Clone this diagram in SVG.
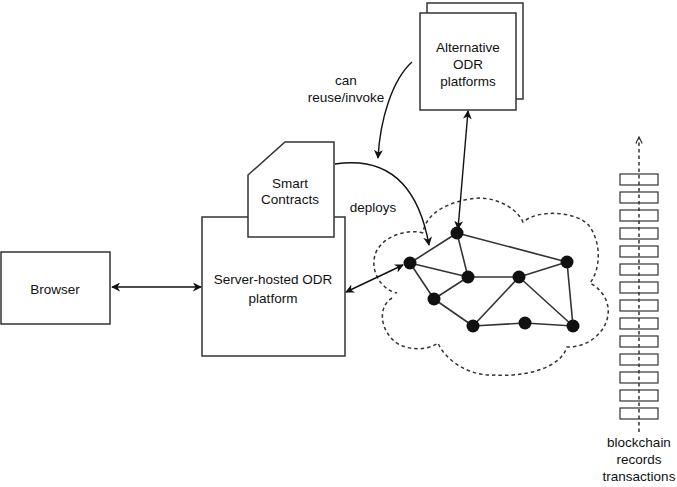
<svg xmlns="http://www.w3.org/2000/svg" width="677" height="487" viewBox="0 0 677 487">
<style>
text{font-family:"Liberation Sans",Arial,sans-serif;font-size:13.5px;fill:#111;text-anchor:middle}
.box{fill:#fff;stroke:#333;stroke-width:1.5}
.edge{stroke:#333;stroke-width:1.6;fill:none}
.conn{stroke:#111;stroke-width:1.4;fill:none}
.dash{stroke:#333;stroke-width:1.5;fill:none;stroke-dasharray:3.5,3}
.node{fill:#111}
.blk{fill:#fff;stroke:#333;stroke-width:1.2}
</style>
<defs>
<marker id="ah" viewBox="0 0 10 10" refX="9" refY="5" markerWidth="9" markerHeight="9" markerUnits="userSpaceOnUse" orient="auto-start-reverse">
<path d="M0,0 L10,5 L0,10 L3,5 z" fill="#111"/>
</marker>
<marker id="oh" viewBox="0 0 10 10" refX="9" refY="5" markerWidth="8" markerHeight="8" markerUnits="userSpaceOnUse" orient="auto">
<path d="M1,1 L9,5 L1,9" fill="none" stroke="#333" stroke-width="1.5"/>
</marker>
</defs>

<g id="alt-platforms">
<rect class="box" x="427" y="3" width="96" height="96"/>
<rect class="box" x="420" y="13" width="96" height="97"/>
<text x="468" y="52">Alternative</text>
<text x="468" y="69">ODR</text>
<text x="468" y="86">platforms</text>
</g>

<g id="browser">
<rect class="box" x="1" y="252" width="109" height="72"/>
<text x="55" y="294">Browser</text>
</g>

<g id="server">
<rect class="box" x="202" y="217" width="143" height="139"/>
<text x="273" y="284">Server-hosted ODR</text>
<text x="273" y="303">platform</text>
</g>

<g id="smart-contracts">
<path class="box" d="M285,142 L334,142 L334,237 L248,237 L248,175 Z"/>
<text x="290" y="188">Smart</text>
<text x="290" y="204">Contracts</text>
</g>

<g id="network">
<path class="dash" d="M423,233 C405,228 380,238 375,255 C370,272 382,290 397,293 M392,298 C380,305 378,325 393,340 C403,350 425,352 438,343 C445,360 470,377 495,375 C520,377 560,370 567,347 C585,348 605,335 608,315 C610,300 600,288 590,283 C600,270 602,245 590,227 C580,212 540,208 523,222 C515,205 490,195 470,199 C445,203 425,215 423,233"/>
<g class="edge">
<line x1="457" y1="233" x2="410" y2="263"/>
<line x1="457" y1="233" x2="468" y2="277"/>
<line x1="457" y1="233" x2="567" y2="262"/>
<line x1="410" y1="263" x2="468" y2="277"/>
<line x1="410" y1="263" x2="434" y2="299"/>
<line x1="434" y1="299" x2="468" y2="277"/>
<line x1="434" y1="299" x2="473" y2="326"/>
<line x1="468" y1="277" x2="519" y2="277"/>
<line x1="519" y1="277" x2="567" y2="262"/>
<line x1="519" y1="277" x2="473" y2="326"/>
<line x1="519" y1="277" x2="573" y2="326"/>
<line x1="473" y1="326" x2="525" y2="323"/>
<line x1="525" y1="323" x2="573" y2="326"/>
<line x1="567" y1="262" x2="573" y2="326"/>
</g>
<g class="node">
<circle cx="457" cy="233" r="6.5"/>
<circle cx="410" cy="263" r="6.5"/>
<circle cx="468" cy="277" r="6.5"/>
<circle cx="434" cy="299" r="6.5"/>
<circle cx="519" cy="277" r="6.5"/>
<circle cx="567" cy="262" r="6.5"/>
<circle cx="473" cy="326" r="6.5"/>
<circle cx="525" cy="323" r="6.5"/>
<circle cx="573" cy="326" r="6.5"/>
</g>
</g>

<g id="blockchain">
<g class="blk">
<rect x="620" y="174" width="38" height="11"/>
<rect x="620" y="192" width="38" height="11"/>
<rect x="620" y="210" width="38" height="11"/>
<rect x="620" y="228" width="38" height="11"/>
<rect x="620" y="246" width="38" height="11"/>
<rect x="620" y="264" width="38" height="11"/>
<rect x="620" y="282" width="38" height="11"/>
<rect x="620" y="300" width="38" height="11"/>
<rect x="620" y="318" width="38" height="11"/>
<rect x="620" y="336" width="38" height="11"/>
<rect x="620" y="354" width="38" height="11"/>
<rect x="620" y="372" width="38" height="11"/>
<rect x="620" y="390" width="38" height="11"/>
<rect x="620" y="408" width="38" height="11"/>
</g>
<text x="639" y="447">blockchain</text>
<text x="639" y="464">records</text>
<text x="639" y="481">transactions</text>
</g>

<g id="connectors">
<line class="conn" x1="112" y1="287" x2="201" y2="287" marker-start="url(#ah)" marker-end="url(#ah)"/>
<line class="conn" x1="346" y1="292" x2="403" y2="265" marker-start="url(#ah)" marker-end="url(#ah)"/>
<line class="conn" x1="468" y1="111" x2="458" y2="229" marker-start="url(#ah)" marker-end="url(#ah)"/>
<path class="conn" d="M412,62 C392,80 380,120 378,158" marker-end="url(#ah)"/>
<path class="conn" d="M335,164 C395,155 420,195 429,245" marker-end="url(#ah)"/>
<line class="dash" x1="639" y1="432" x2="639" y2="137" marker-end="url(#oh)"/>
<text x="346" y="85">can</text>
<text x="346" y="102">reuse/invoke</text>
<text x="373" y="212">deploys</text>
</g>
</svg>
